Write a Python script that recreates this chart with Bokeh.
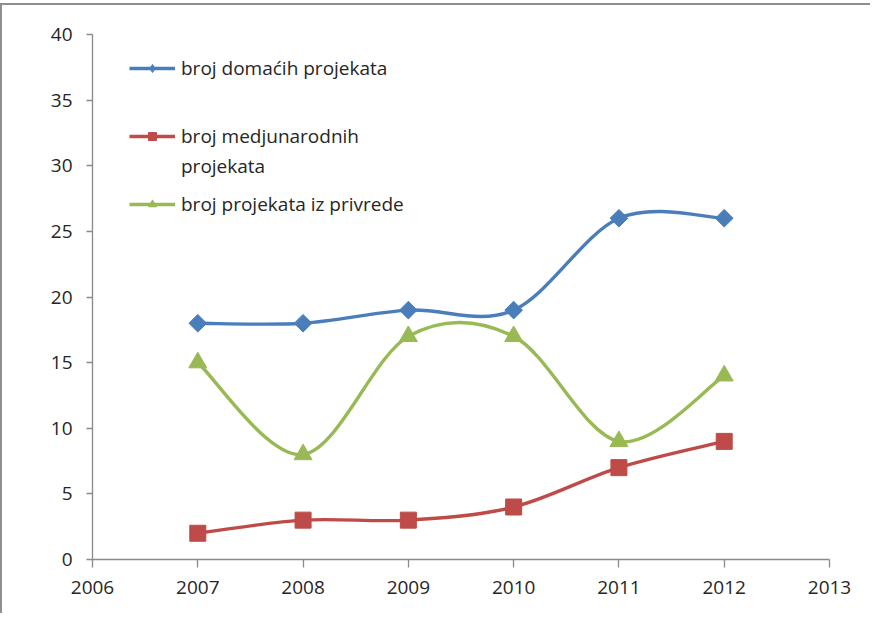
import math
from bokeh.plotting import figure
from bokeh.models import Range1d, Legend, LegendItem, FixedTicker
from bokeh.embed import file_html
from bokeh.resources import INLINE

years = [2007, 2008, 2009, 2010, 2011, 2012]
domaci = [18, 18, 19, 19, 26, 26]
medjunarodni = [2, 3, 3, 4, 7, 9]
privreda = [15, 8, 17, 17, 9, 14]

x_ticks = [2006, 2007, 2008, 2009, 2010, 2011, 2012, 2013]
y_ticks = [0, 5, 10, 15, 20, 25, 30, 35, 40]

labels = ["broj domaćih projekata", "broj medjunarodnih", "broj projekata iz privrede"]
label_cont = "projekata"
colors = ["#4A7EBB", "#BE4B48", "#98B954"]
FONT = "Open Sans"
FS = "19px"
TXT = "#262626"
NAN = float("nan")


def smooth(xs, ys):
    # Catmull-Rom style smoothing (as in Excel smoothed lines) -> bezier segments
    n = len(xs)
    out = dict(x0=[], y0=[], x1=[], y1=[], cx0=[], cy0=[], cx1=[], cy1=[])
    for i in range(n - 1):
        p0 = (xs[max(i - 1, 0)], ys[max(i - 1, 0)])
        p1 = (xs[i], ys[i])
        p2 = (xs[i + 1], ys[i + 1])
        p3 = (xs[min(i + 2, n - 1)], ys[min(i + 2, n - 1)])
        out["x0"].append(p1[0]); out["y0"].append(p1[1])
        out["x1"].append(p2[0]); out["y1"].append(p2[1])
        out["cx0"].append(p1[0] + (p2[0] - p0[0]) / 6.0)
        out["cy0"].append(p1[1] + (p2[1] - p0[1]) / 6.0)
        out["cx1"].append(p2[0] - (p3[0] - p1[0]) / 6.0)
        out["cy1"].append(p2[1] - (p3[1] - p1[1]) / 6.0)
    return out


p = figure(width=870, height=610, output_backend="svg", toolbar_location=None,
           x_range=Range1d(2006, 2013), y_range=Range1d(0, 40),
           min_border_left=90, min_border_right=43, min_border_top=29, min_border_bottom=56)
p.margin = (3, 0, 0, 0)
p.styles = {"border-left": "2px solid #8f8f8f", "border-top": "2px solid #8f8f8f"}
p.outline_line_color = None
p.xgrid.visible = False
p.ygrid.visible = False
p.background_fill_color = "white"
p.border_fill_color = "white"

for ax, ticks in ((p.xaxis, x_ticks), (p.yaxis, y_ticks)):
    ax.ticker = FixedTicker(ticks=ticks)
    ax.minor_tick_line_color = None
    ax.axis_line_color = "#8a8a8a"
    ax.major_tick_line_color = "#8a8a8a"
    ax.axis_line_width = 1.3
    ax.major_tick_line_width = 1.3
    ax.major_tick_in = 0
    ax.major_label_text_font = FONT
    ax.major_label_text_font_size = FS
    ax.major_label_text_color = TXT
p.xaxis.major_tick_out = 8
p.yaxis.major_tick_out = 6
p.xaxis.major_label_standoff = 13
p.yaxis.major_label_standoff = 14

series = [domaci, medjunarodni, privreda]
markers = ["square", "square", "triangle"]
leg_markers = ["diamond", "square", "triangle"]
angles = [math.pi / 4, 0, 0]
sizes = [12.5, 16, 18]
items = []
for ys, col, mk, lmk, ang, sz in zip(series, colors, markers, leg_markers, angles, sizes):
    seg = smooth(years, ys)
    p.bezier(x0="x0", y0="y0", x1="x1", y1="y1", cx0="cx0", cy0="cy0", cx1="cx1", cy1="cy1",
             source=seg, line_color=col, line_width=3.4)
    p.scatter(years, ys, marker=mk, angle=ang, size=sz, fill_color=col, line_color=col)
    r_leg = p.line([NAN], [NAN], line_color=col, line_width=3.4)
    r_mk = p.scatter([NAN], [NAN], marker=lmk, size=sz, fill_color=col, line_color=col)
    items.append([r_leg, r_mk])

blank = p.line([NAN], [NAN], line_alpha=0)


def make_legend(its, loc, spacing=6):
    return Legend(items=its, location=loc, spacing=spacing,
                  border_line_color=None, background_fill_alpha=0, padding=0, margin=0,
                  glyph_width=46, glyph_height=20, label_standoff=6,
                  label_text_font=FONT, label_text_font_size=FS, label_text_color=TXT,
                  label_height=20)


p.add_layout(make_legend([LegendItem(label=labels[0], renderers=items[0])], (37, 478)), "center")
p.add_layout(make_legend([LegendItem(label=labels[1], renderers=items[1]),
                          LegendItem(label=label_cont, renderers=[blank])], (37, 380), spacing=4), "center")
p.add_layout(make_legend([LegendItem(label=labels[2], renderers=items[2])], (37, 342)), "center")

open("out.html", "w").write(file_html(p, INLINE))
